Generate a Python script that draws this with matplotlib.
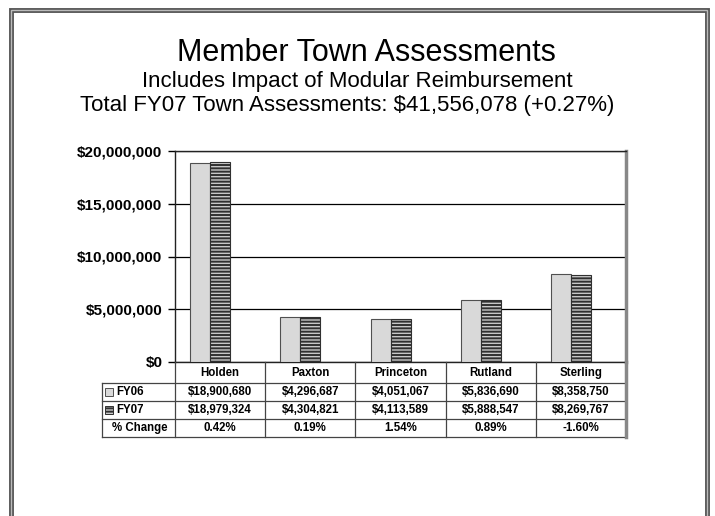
import matplotlib.pyplot as plt
import matplotlib.transforms as mtransforms
from matplotlib.lines import Line2D
from matplotlib.patches import Rectangle
import numpy as np

plt.rcParams['font.family'] = ['Liberation Sans', 'DejaVu Sans']
plt.rcParams['hatch.linewidth'] = 1.4

# data
towns = ["Holden", "Paxton", "Princeton", "Rutland", "Sterling"]
fy06 = [18900680, 4296687, 4051067, 5836690, 8358750]
fy07 = [18979324, 4304821, 4113589, 5888547, 8269767]
pct_change = ["0.42%", "0.19%", "1.54%", "0.89%", "-1.60%"]
yticks = [0, 5000000, 10000000, 15000000, 20000000]

W, H = 715, 516
fig = plt.figure(figsize=(W / 100, H / 100), dpi=100)


def fx(px):
    return px / W


def fy(py):
    return 1 - py / H


# outer frame
fig.add_artist(Rectangle((fx(11), fy(530)), fx(696), (530 - 10) / H,
                         fill=False, lw=3.5, ec='#555555', transform=fig.transFigure))
fig.add_artist(Rectangle((fx(11), fy(530)), fx(696), (530 - 10) / H,
                         fill=False, lw=1.0, ec='#bbbbbb', transform=fig.transFigure))

# titles
fig.text(fx(366), fy(53), "Member Town Assessments", ha='center', va='center', fontsize=22)
fig.text(fx(357), fy(81), "Includes Impact of Modular Reimbursement",
         ha='center', va='center', fontsize=16)
fig.text(fx(347), fy(105), "Total FY07 Town Assessments: $41,556,078 (+0.27%)",
         ha='center', va='center', fontsize=16)

# plot area
ax = fig.add_axes([fx(175), fy(362), fx(451), (362 - 151) / H])
x = np.arange(len(towns))
bw = 0.222
off = -0.11
ax.bar(x + off - bw / 2, fy06, bw, color='#d9d9d9', edgecolor='#505050', lw=0.8, zorder=3)
ax.bar(x + off + bw / 2, fy07, bw, color='#c8c8c8', edgecolor='#303030', lw=0.8,
       hatch='-----', zorder=3)

ax.set_xlim(-0.5, len(towns) - 0.5)
ax.set_ylim(0, 20000000)
ax.set_yticks(yticks)
ax.set_yticklabels(["${:,}".format(v) for v in yticks], fontweight='bold', fontsize=11)
ax.tick_params(axis='y', length=5, width=1, pad=4)
ax.set_xticks([])
ax.grid(axis='y', color='black', lw=0.9, zorder=1)
for s in ['top', 'left', 'bottom']:
    ax.spines[s].set_color('#222222')
    ax.spines[s].set_linewidth(1.0)
ax.spines['right'].set_color('#888888')
ax.spines['right'].set_linewidth(2.5)

# data table below the plot
tr = mtransforms.blended_transform_factory(ax.transData, fig.transFigure)
rows_y = [362, 383, 401, 419, 437]
edges = np.arange(len(towns) + 1) - 0.5
lc = '#444444'
# horizontal lines
for yy in rows_y[1:]:
    fig.add_artist(Line2D([fx(102), fx(626)], [fy(yy), fy(yy)], color=lc, lw=0.9,
                          transform=fig.transFigure))
# vertical lines
for e in edges:
    last = e == edges[-1]
    fig.add_artist(Line2D([e, e], [fy(362), fy(437)], color='#888888' if last else lc,
                          lw=2.5 if last else 0.9, transform=tr))
fig.add_artist(Line2D([fx(102), fx(102)], [fy(383), fy(437)], color=lc, lw=0.9,
                      transform=fig.transFigure))

# header row
for i, t in enumerate(towns):
    fig.text(i, fy(373), t, ha='center', va='center', fontsize=8.3, fontweight='bold',
             transform=tr)
# value rows
row_vals = [["${:,}".format(v) for v in fy06], ["${:,}".format(v) for v in fy07], pct_change]
row_labels = ["FY06", "FY07", "% Change"]
for r, (lab, vals) in enumerate(zip(row_labels, row_vals)):
    yc = (rows_y[r + 1] + rows_y[r + 2]) / 2
    for i, v in enumerate(vals):
        fig.text(i, fy(yc), v, ha='center', va='center', fontsize=8.3, fontweight='bold',
                 transform=tr)
    lx = 116 if r < 2 else 112
    fig.text(fx(lx), fy(yc), lab, ha='left', va='center', fontsize=8.3, fontweight='bold')

# legend keys
fig.add_artist(Rectangle((fx(105), fy(396)), fx(8), 8 / H, facecolor='#d9d9d9',
                         edgecolor='#505050', lw=0.7, transform=fig.transFigure))
fig.add_artist(Rectangle((fx(105), fy(414)), fx(8), 8 / H, facecolor='#c8c8c8',
                         edgecolor='#303030', lw=0.7, hatch='-----', transform=fig.transFigure))

plt.savefig("out.png", dpi=100)
